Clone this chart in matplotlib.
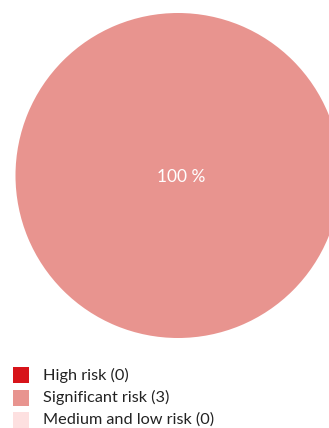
import matplotlib
matplotlib.use("Agg")
import matplotlib.pyplot as plt
import numpy as np
from matplotlib.patches import Rectangle

categories = ["High risk", "Significant risk", "Medium and low risk"]
counts = [0, 3, 0]
colors = ["#d7141a", "#e8948f", "#fde0e0"]

plt.rcParams["font.family"] = ["Lato", "DejaVu Sans"]

W, H = 329, 428
fig = plt.figure(figsize=(W / 100, H / 100), dpi=100)
fig.patch.set_facecolor("white")

# pie axes placed in pixel terms: centre and radius
cx, cy, r = 178, 175.5, 162.5
ax = fig.add_axes([(cx - r) / W, (H - cy - r) / H, 2 * r / W, 2 * r / H])
total = sum(counts)
wedges, texts = ax.pie(counts, colors=colors, startangle=90, counterclock=False,
                       radius=1, wedgeprops=dict(linewidth=0))
for w, v in zip(wedges, counts):
    if v > 0:
        ang = np.deg2rad((w.theta1 + w.theta2) / 2)
        if v == total:
            x, y = 0.02, -0.01
        else:
            x, y = 0.6 * np.cos(ang), 0.6 * np.sin(ang)
        ax.text(x, y, f"{round(100 * v / total)} %", ha="center", va="center",
                color="white", fontsize=12.5)
ax.set_xlim(-1, 1)
ax.set_ylim(-1, 1)
ax.set_aspect("equal")
ax.axis("off")

# legend rows drawn in figure pixel coordinates
row_y = [375, 397.5, 420]
for yc, c, name, v in zip(row_y, colors, categories, counts):
    fig.patches.append(Rectangle((13 / W, 1 - (yc + 8) / H), 16 / W, 16 / H,
                                 transform=fig.transFigure, facecolor=c,
                                 edgecolor="none"))
    fig.text(43 / W, 1 - yc / H, f"{name} ({v})", ha="left", va="center",
             fontsize=11.7, color="#222222")

fig.savefig("out.png", dpi=100)
